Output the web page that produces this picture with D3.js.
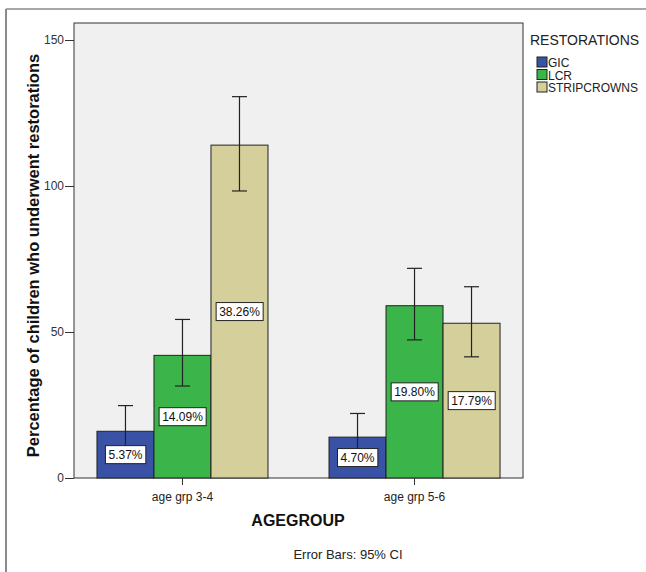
<!DOCTYPE html>
<html>
<head>
<meta charset="utf-8">
<script src="https://cdn.jsdelivr.net/npm/d3@7"></script>
<style>
  html, body { margin: 0; padding: 0; background: #ffffff; }
  svg { display: block; font-family: "Liberation Sans", Arial, sans-serif; }
</style>
</head>
<body>
<svg id="chart" width="646" height="572"></svg>
<script>
// Age groups on the x axis
const groups = ["age grp 3-4", "age grp 5-6"];
// Restoration types (legend order)
const restorations = ["GIC", "LCR", "STRIPCROWNS"];
const colors = ["#3a52a6", "#3bb44a", "#d5cf9b"];
// Number of children per restoration type, by age group
const countsGrp34 = [16, 42, 114];
const countsGrp56 = [14, 59, 53];
// 95% CI bounds per restoration type, by age group
const ciLowGrp34 = [10.3, 31.5, 98.3];
const ciHighGrp34 = [24.8, 54.3, 130.6];
const ciLowGrp56 = [8.2, 47.3, 41.5];
const ciHighGrp56 = [22.1, 71.8, 65.5];
// Y axis ticks
const yTicks = [0, 50, 100, 150];

const counts = [countsGrp34, countsGrp56];
const ciLow = [ciLowGrp34, ciLowGrp56];
const ciHigh = [ciHighGrp34, ciHighGrp56];
const total = d3.sum(counts.flat());

const rows = [];
groups.forEach((g, gi) => {
  restorations.forEach((r, ri) => {
    rows.push({ group: g, type: r, ci: ri, value: counts[gi][ri], lo: ciLow[gi][ri], hi: ciHigh[gi][ri] });
  });
});

const svg = d3.select("#chart");
const plot = { left: 74, right: 523, top: 23, bottom: 478 };

// Outer frame (top and left edges)
svg.append("line").attr("x1", 6).attr("x2", 646).attr("y1", 9).attr("y2", 9)
  .attr("stroke", "#8a8a8a").attr("stroke-width", 1.5);
svg.append("line").attr("x1", 6).attr("x2", 6).attr("y1", 9).attr("y2", 572)
  .attr("stroke", "#8a8a8a").attr("stroke-width", 2);

// Plot background
svg.append("rect")
  .attr("x", plot.left).attr("y", plot.top)
  .attr("width", plot.right - plot.left).attr("height", plot.bottom - plot.top)
  .attr("fill", "#f0f0f0").attr("stroke", "#333").attr("stroke-width", 1);

const x0 = d3.scaleBand().domain(groups).range([plot.left, plot.right])
  .paddingInner(0.263).paddingOuter(0.099);
const x1 = d3.scaleBand().domain(restorations).range([0, x0.bandwidth()]);
const y = d3.scaleLinear().domain([0, 150]).range([plot.bottom, plot.top + 17]);

// Bars
svg.append("g").selectAll("rect").data(rows).join("rect")
  .attr("x", d => x0(d.group) + x1(d.type))
  .attr("y", d => y(d.value))
  .attr("width", x1.bandwidth())
  .attr("height", d => y(0) - y(d.value))
  .attr("fill", d => colors[d.ci])
  .attr("stroke", "#222").attr("stroke-width", 1);

// Error bars (95% CI)
const eb = svg.append("g").attr("stroke", "#222").attr("stroke-width", 1.2);
rows.forEach(d => {
  const cx = x0(d.group) + x1(d.type) + x1.bandwidth() / 2;
  eb.append("line").attr("x1", cx).attr("x2", cx).attr("y1", y(d.lo)).attr("y2", y(d.hi));
  eb.append("line").attr("x1", cx - 7.5).attr("x2", cx + 7.5).attr("y1", y(d.lo)).attr("y2", y(d.lo));
  eb.append("line").attr("x1", cx - 7.5).attr("x2", cx + 7.5).attr("y1", y(d.hi)).attr("y2", y(d.hi));
});

// Percentage labels at bar mid-height
const lab = svg.append("g");
rows.forEach(d => {
  const cx = x0(d.group) + x1(d.type) + x1.bandwidth() / 2;
  const cy = (y(d.value) + y(0)) / 2;
  const txt = (d.value / total * 100).toFixed(2) + "%";
  const g = lab.append("g");
  const t = g.append("text").attr("x", cx).attr("y", cy + 4.5)
    .attr("text-anchor", "middle").attr("font-size", 12).attr("fill", "#111").text(txt);
  const bb = t.node().getBBox();
  g.insert("rect", "text")
    .attr("x", bb.x - 3).attr("y", cy - 9).attr("width", bb.width + 6).attr("height", 18)
    .attr("fill", "#fff").attr("stroke", "#222").attr("stroke-width", 1);
});

// Y axis
const yAxis = svg.append("g").attr("transform", `translate(${plot.left},0)`)
  .call(d3.axisLeft(y).tickValues(yTicks).tickSize(9).tickPadding(1).tickSizeOuter(0));
yAxis.select(".domain").remove();
yAxis.selectAll("line").attr("stroke", "#333");
yAxis.selectAll("text").attr("font-size", 12).attr("fill", "#333")
  .attr("font-family", "Liberation Sans, Arial, sans-serif");

// X axis ticks
const xAxis = svg.append("g").attr("transform", `translate(0,${plot.bottom})`)
  .call(d3.axisBottom(x0).tickSize(7).tickSizeOuter(0));
xAxis.select(".domain").remove();
xAxis.selectAll("line").attr("stroke", "#333");
xAxis.selectAll("text").attr("font-size", 12).attr("fill", "#222")
  .attr("font-family", "Liberation Sans, Arial, sans-serif").attr("dy", "1.05em");

// Axis titles
svg.append("text")
  .attr("transform", `translate(39,${(plot.top + plot.bottom) / 2 + 5}) rotate(-90)`)
  .attr("text-anchor", "middle").attr("font-size", 16.5).attr("font-weight", "bold").attr("fill", "#111")
  .text("Percentage of children who underwent restorations");
svg.append("text").attr("x", 298).attr("y", 526)
  .attr("text-anchor", "middle").attr("font-size", 16).attr("font-weight", "bold").attr("fill", "#111")
  .text("AGEGROUP");
svg.append("text").attr("x", 348).attr("y", 559)
  .attr("text-anchor", "middle").attr("font-size", 13).attr("fill", "#222")
  .text("Error Bars: 95% CI");

// Legend
const lg = svg.append("g").attr("transform", "translate(530,0)");
lg.append("text").attr("x", 0).attr("y", 45).attr("font-size", 14).attr("fill", "#222").text("RESTORATIONS");
restorations.forEach((r, i) => {
  const yy = 57 + i * 12.5;
  lg.append("rect").attr("x", 7).attr("y", yy).attr("width", 10).attr("height", 10)
    .attr("fill", colors[i]).attr("stroke", "#222").attr("stroke-width", 1);
  lg.append("text").attr("x", 18).attr("y", yy + 10).attr("font-size", 12).attr("fill", "#222").text(r);
});
</script>
</body>
</html>
